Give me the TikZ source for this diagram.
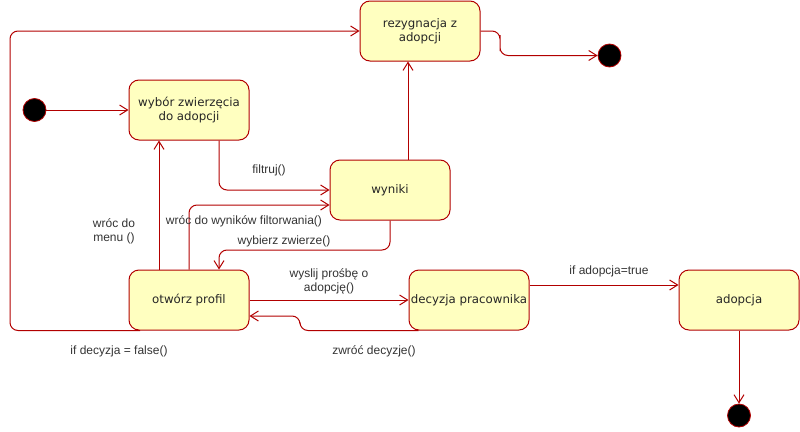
\documentclass[tikz,border=0pt]{standalone}
\usepackage{fontspec}
\setmainfont{Liberation Sans}
\newfontfamily\statefont{DejaVu Sans}
\usetikzlibrary{arrows.meta,positioning,calc}
\definecolor{umlred}{HTML}{B20000}
\definecolor{umlfill}{HTML}{FFFFC0}

\begin{document}
\begin{tikzpicture}[
    x=1pt,y=-1pt,
    >={Straight Barb[length=8pt,width=10pt]},
    state/.style={rectangle,rounded corners=10pt,draw=umlred,fill=umlfill,line width=1pt,
                  minimum width=120pt,minimum height=60pt,inner sep=0pt,align=center,
                  text=black!85,font=\statefont\fontsize{11.8}{14.5}\selectfont},
    dot/.style={circle,draw=umlred,fill=black,line width=0.8pt,minimum size=23pt,inner sep=0pt},
    tr/.style={->,draw=umlred,line width=1pt,rounded corners=8pt},
    lbl/.style={font=\fontsize{12}{14}\selectfont,text=black!80,align=center,inner sep=0pt},
]
\useasboundingbox (0,0) rectangle (800,431);

\node[state] (rez) at (420,31) {rezygnacja z\\adopcji};
\node[state] (wyb) at (189,110) {wybór zwierzęcia\\do adopcji};
\node[state] (wyn) at (390,190) {wyniki};
\node[state] (otw) at (189,300) {otwórz profil};
\node[state] (dec) at (469,300) {decyzja pracownika};
\node[state] (adop) at (739,300) {adopcja};

\node[dot] (init) at (34.5,110) {};
\node[dot] (fin1) at (609.5,55.5) {};
\node[dot] (fin2) at (739,415.5) {};

\coordinate (wz) at (219,250);
\coordinate (zd) at (300,316);
\coordinate (zr) at (500,43);
\coordinate (zf) at (10,200);

\draw[tr] (init) -- (wyb);
\draw[tr] ([xshift=30pt]wyb.south) |- (wyn.west);
\draw[tr] (otw.north) |- ([yshift=-15pt]wyn.west);
\draw[tr] (wyn.south) |- (wz) -- (wz |- otw.north);
\draw[tr] ([xshift=-30pt]otw.north) -- ([xshift=-30pt]wyb.south);
\draw[tr] (otw) -- (dec);
\draw[tr] ([xshift=10pt]dec.south west) -| (zd) -- (zd -| otw.east);
\draw[tr] ([yshift=15pt]dec.east) -- ([yshift=15pt]adop.west);
\draw[tr] (adop) -- (fin2);
\draw[tr] ([xshift=18pt]wyn.north) -- ([xshift=18pt]wyn.north |- rez.south);
\draw[tr] (rez.east) -| (zr) |- (fin1);
\draw[tr] ([xshift=-49pt]otw.south) -| (zf) |- (rez.west);

% transition labels
\node[lbl] (lfil) at (269,170) {filtruj()};
\node[lbl] (lpow) at (244,221) {wróc do wyników filtorwania()};
\node[lbl] (lwyb) at (284,241) {wybierz zwierze()};
\node[lbl] (lmen) at (114,231) {wróc do\\menu ()};
\node[lbl] (lwys) at (329,281) {wyslij prośbę o\\adopcję()};
\node[lbl] (lzwr) at (374,351) {zwróć decyzje()};
\node[lbl] (ladp) at (609,271) {if adopcja=true};
\node[lbl] (lfal) at (119,351) {if decyzja = false()};

\end{tikzpicture}
\end{document}
